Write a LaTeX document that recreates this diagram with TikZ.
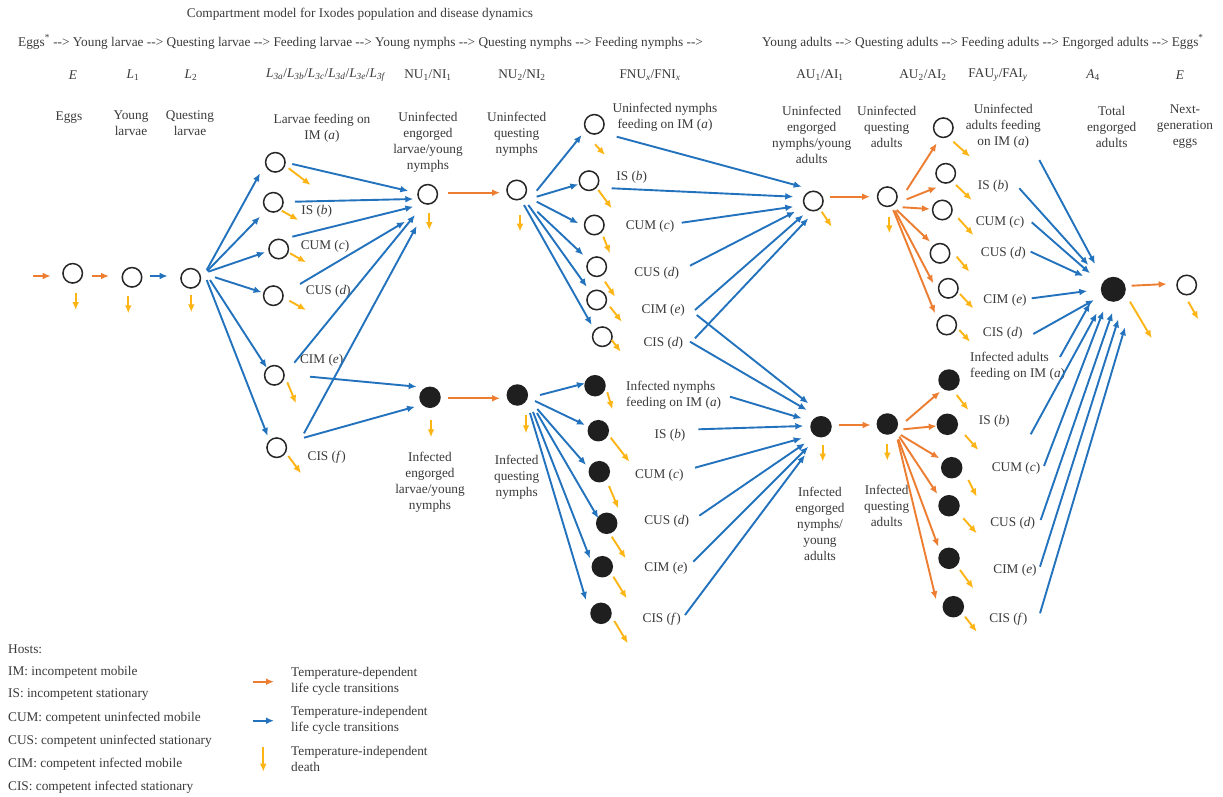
\documentclass[tikz,border=0pt]{standalone}
\usepackage{fontspec}
\setmainfont{Liberation Serif}
\usetikzlibrary{arrows.meta,calc}
\definecolor{torange}{HTML}{ED7D31}
\definecolor{tblue}{HTML}{2372BD}
\definecolor{tyellow}{HTML}{FDB515}
\definecolor{tgray}{HTML}{3A3A3A}
\newcommand\cnx[5]{\draw[#1] ($(#2)+(#3)$) -- ($(#4)+(#5)$);}
\newcommand\dth[3]{\draw[death] ($(#1)+(#2)$) -- ($(#1)+(#3)$);}
\newcommand\dd{-{}-{}>}
\begin{document}
\begin{tikzpicture}[x=1pt,y=-1pt,
  font=\fontsize{13.3}{16}\selectfont,
  every node/.style={text=tgray},
  un/.style={circle,draw=black!85,line width=1.5pt,minimum size=19.5pt,inner sep=0pt},
  inf/.style={circle,fill=black!88,minimum size=21.5pt,inner sep=0pt},
  arr/.style={line width=1.9pt,-{Latex[length=8pt,width=6.8pt]}},
  tdep/.style={arr,draw=torange},
  tind/.style={arr,draw=tblue},
  death/.style={arr,draw=tyellow},
  lbl/.style={align=center,inner sep=0pt}]
\fill[white] (0,0) rectangle (1223,797);
\path[use as bounding box] (0,0) rectangle (1223,797);

% ---------- header ----------
\node[lbl] (title) at (360,14) {Compartment model for Ixodes population and disease dynamics};
\node[lbl,anchor=west] (hdrL) at (18,42) {Eggs\textsuperscript{*} \dd{} Young larvae \dd{} Questing larvae \dd{} Feeding larvae \dd{} Young nymphs \dd{} Questing nymphs \dd{} Feeding nymphs \dd};
\node[lbl,anchor=west] (hdrR) at (762,42) {Young adults \dd{} Questing adults \dd{} Feeding adults \dd{} Engorged adults \dd{} Eggs\textsuperscript{*}};

\node[lbl] (sE) at (73,75) {\textit{E}};
\node[lbl] (sL1) at (133,75) {\textit{L}\textsubscript{1}};
\node[lbl] (sL2) at (191,75) {\textit{L}\textsubscript{2}};
\node[lbl] (sL3) at (326,75) {\textit{L}\textsubscript{\textit{3a}}/\textit{L}\textsubscript{\textit{3b}}/\textit{L}\textsubscript{\textit{3c}}/\textit{L}\textsubscript{\textit{3d}}/\textit{L}\textsubscript{\textit{3e}}/\textit{L}\textsubscript{\textit{3f}}};
\node[lbl] (sNU1) at (428,75) {NU\textsubscript{1}/NI\textsubscript{1}};
\node[lbl] (sNU2) at (522,75) {NU\textsubscript{2}/NI\textsubscript{2}};
\node[lbl] (sFN) at (650,75) {FNU\textsubscript{\textit{x}}/FNI\textsubscript{\textit{x}}};
\node[lbl] (sAU1) at (820,75) {AU\textsubscript{1}/AI\textsubscript{1}};
\node[lbl] (sAU2) at (923,75) {AU\textsubscript{2}/AI\textsubscript{2}};
\node[lbl] (sFA) at (998,75) {FAU\textsubscript{\textit{y}}/FAI\textsubscript{\textit{y}}};
\node[lbl] (sA4) at (1093,75) {\textit{A}\textsubscript{4}};
\node[lbl] (sE2) at (1180,75) {\textit{E}};

% ---------- descriptive labels ----------
\node[lbl] (tEggs) at (69,118) {Eggs};
\node[lbl] (tYL) at (131,123) {Young\\larvae};
\node[lbl] (tQL) at (190,123) {Questing\\larvae};
\node[lbl] (tLF) at (322,128.5) {Larvae feeding on\\IM (\textit{a})};
\node[lbl] (tNU1) at (428,142.7) {Uninfected\\engorged\\larvae/young\\nymphs};
\node[lbl] (tNU2) at (516.7,134) {Uninfected\\questing\\nymphs};
\node[lbl] (tFNU) at (665,117) {Uninfected nymphs\\feeding on IM (\textit{a})};
\node[lbl] (tAU1) at (811.7,135.3) {Uninfected\\engorged\\nymphs/young\\adults};
\node[lbl] (tAU2) at (886.7,127) {Uninfected\\questing\\adults};
\node[lbl] (tFAU) at (1003.3,126) {Uninfected\\adults feeding\\on IM (\textit{a})};
\node[lbl] (tA4) at (1111.7,126.7) {Total\\engorged\\adults};
\node[lbl] (tE1) at (1185,126.7) {Next-\\generation\\eggs};
\node[lbl] (tNI1) at (430,482) {Infected\\engorged\\larvae/young\\nymphs};
\node[lbl] (tNI2) at (516.7,477.7) {Infected\\questing\\nymphs};
\node[lbl,anchor=west,align=left] (tFNI) at (626,395) {Infected nymphs\\feeding on IM (\textit{a})};
\node[lbl] (tAI1) at (820,523.7) {Infected\\engorged\\nymphs/\\young\\adults};
\node[lbl] (tAI2) at (886.7,506) {Infected\\questing\\adults};
\node[lbl,anchor=west,align=left] (tFAI) at (970,366) {Infected adults\\feeding on IM (\textit{a})};

% host labels
\node[lbl] (h3b) at (316.7,211.7) {IS (\textit{b})};
\node[lbl] (h3c) at (325,246) {CUM (\textit{c})};
\node[lbl] (h3d) at (328.3,291) {CUS (\textit{d})};
\node[lbl] (h3e) at (321.7,360.7) {CIM (\textit{e})};
\node[lbl] (h3f) at (326.7,457.7) {CIS (\textit{f})};
\node[lbl] (hNUb) at (631.7,177.3) {IS (\textit{b})};
\node[lbl] (hNUc) at (650,226.7) {CUM (\textit{c})};
\node[lbl] (hNUd) at (656.7,273.3) {CUS (\textit{d})};
\node[lbl] (hNUe) at (663.3,310) {CIM (\textit{e})};
\node[lbl] (hNUf) at (663.3,343.3) {CIS (\textit{d})};
\node[lbl] (hNIb) at (670,435) {IS (\textit{b})};
\node[lbl] (hNIc) at (659.3,475) {CUM (\textit{c})};
\node[lbl] (hNId) at (666.7,521.7) {CUS (\textit{d})};
\node[lbl] (hNIe) at (666,568.3) {CIM (\textit{e})};
\node[lbl] (hNIf) at (661.7,619.3) {CIS (\textit{f})};
\node[lbl] (hAUb) at (993.3,186.7) {IS (\textit{b})};
\node[lbl] (hAUc) at (1000,222.3) {CUM (\textit{c})};
\node[lbl] (hAUd) at (1003.3,253.3) {CUS (\textit{d})};
\node[lbl] (hAUe) at (1005,300.7) {CIM (\textit{e})};
\node[lbl] (hAUf) at (1002.7,333.3) {CIS (\textit{d})};
\node[lbl] (hAIb) at (994.3,421.7) {IS (\textit{b})};
\node[lbl] (hAIc) at (1016,468.3) {CUM (\textit{c})};
\node[lbl] (hAId) at (1012.7,523.3) {CUS (\textit{d})};
\node[lbl] (hAIe) at (1015,570) {CIM (\textit{e})};
\node[lbl] (hAIf) at (1008.3,619.3) {CIS (\textit{f})};

% ---------- compartments ----------
\node[un] (E0) at (72.7,273.3) {};
\node[un] (L1) at (132,277.3) {};
\node[un] (L2) at (190.7,278.3) {};
\node[un] (L3a) at (275.3,162.3) {};
\node[un] (L3b) at (273.3,202.3) {};
\node[un] (L3c) at (278.7,249) {};
\node[un] (L3d) at (273.3,295.7) {};
\node[un] (L3e) at (274.3,375.3) {};
\node[un] (L3f) at (276.7,447.7) {};
\node[un] (NU1) at (427.7,194.3) {};
\node[inf] (NI1) at (430,397.3) {};
\node[un] (NU2) at (516.7,190) {};
\node[inf] (NI2) at (517.3,395) {};
\node[un] (FNUa) at (594.3,124.3) {};
\node[un] (FNUb) at (589,180.7) {};
\node[un] (FNUc) at (594.3,225) {};
\node[un] (FNUd) at (596.7,266.7) {};
\node[un] (FNUe) at (596.7,300) {};
\node[un] (FNUf) at (602.3,336.7) {};
\node[inf] (FNIa) at (595,385.7) {};
\node[inf] (FNIb) at (598.3,430.7) {};
\node[inf] (FNIc) at (599.3,471.7) {};
\node[inf] (FNId) at (606.7,523.3) {};
\node[inf] (FNIe) at (602.3,566.7) {};
\node[inf] (FNIf) at (601,613.3) {};
\node[un] (AU1) at (813.3,201) {};
\node[inf] (AI1) at (821,426.7) {};
\node[un] (AU2) at (887.3,196.7) {};
\node[inf] (AI2) at (887.3,424) {};
\node[un] (FAUa) at (943.3,127.7) {};
\node[un] (FAUb) at (945.7,173.3) {};
\node[un] (FAUc) at (942.3,210) {};
\node[un] (FAUd) at (940,253.3) {};
\node[un] (FAUe) at (948.3,288.3) {};
\node[un] (FAUf) at (946.7,325) {};
\node[inf] (FAIa) at (949,380) {};
\node[inf] (FAIb) at (947.3,424.3) {};
\node[inf] (FAIc) at (951.7,467.7) {};
\node[inf] (FAId) at (949,505.7) {};
\node[inf] (FAIe) at (949,558.3) {};
\node[inf] (FAIf) at (953.3,606.7) {};
\node[inf,minimum size=25pt] (A4) at (1113.3,289.3) {};
\node[un] (E1) at (1186.7,285) {};

% ---------- temperature-dependent transitions ----------
\cnx{tdep}{E0}{-39.7,2.7}{E0}{-22,2.7}
\cnx{tdep}{E0}{19,2.7}{L1}{-23,-1.3}
\cnx{tdep}{NU1}{20.6,-1.6}{NU2}{-16.7,2.7}
\cnx{tdep}{NI1}{18.3,1}{NI2}{-17.3,3.3}
\cnx{tdep}{AU1}{16.7,-4.3}{AU2}{-17.3,0}
\cnx{tdep}{AI1}{18.3,-1.7}{AI2}{-16.6,1}
\cnx{tdep}{A4}{18.4,-3.6}{E1}{-20,-1}
\cnx{tdep}{AU2}{19.4,-6.7}{FAUa}{-6.6,15.6}
\cnx{tdep}{AU2}{19.4,2.6}{FAUb}{-9,14}
\cnx{tdep}{AU2}{15.4,10.6}{FAUc}{-12.3,-1}
\cnx{tdep}{AU2}{9.4,13.3}{FAUd}{-10,-11.6}
\cnx{tdep}{AU2}{7.7,14}{FAUe}{-15,-5}
\cnx{tdep}{AU2}{6,13.3}{FAUf}{-11.7,-11.7}
\cnx{tdep}{AI2}{18.7,-3}{FAIa}{-9,11.7}
\cnx{tdep}{AI2}{16,5.3}{FAIb}{-10.6,1.7}
\cnx{tdep}{AI2}{13.4,11}{FAIc}{-12.4,-9.4}
\cnx{tdep}{AI2}{12,12.7}{FAId}{-11.7,-11.7}
\cnx{tdep}{AI2}{11,15}{FAIe}{-10.7,-11.6}
\cnx{tdep}{AI2}{10.4,16}{FAIf}{-17.3,-7.4}

% ---------- temperature-independent transitions ----------
\cnx{tind}{L1}{18,-1.3}{L2}{-23,-2.3}
\cnx{tind}{L2}{16,-8.3}{L3a}{-15.3,11}
\cnx{tind}{L2}{16.5,-7.3}{L3b}{-13.3,14.4}
\cnx{tind}{L2}{17.6,-6.6}{L3c}{-13.7,3.3}
\cnx{tind}{L2}{24.3,-1}{L3d}{-11.6,-3.4}
\cnx{tind}{L2}{19.3,1.7}{L3e}{-7.6,-7.6}
\cnx{tind}{L2}{16,1.7}{L3f}{-9,-11.7}
\cnx{tind}{L3a}{17,1.7}{NU1}{-19.4,-3.3}
\cnx{tind}{L3b}{21.7,-0.6}{NU1}{-14.4,4.7}
\cnx{tind}{L3c}{13.6,-12.3}{NU1}{-14.4,12.4}
\cnx{tind}{L3d}{26.7,-11.7}{NU1}{-22.7,27.4}
\cnx{tind}{L3e}{20,-12.6}{NU1}{-12.7,20.7}
\cnx{tind}{L3f}{27.3,-14.4}{NU1}{-11,31.7}
\cnx{tind}{L3e}{35.7,1.4}{NI1}{-13.3,-10.6}
\cnx{tind}{L3f}{27.3,-10}{NI1}{-15,9.4}
\cnx{tind}{NU2}{20,0.7}{FNUa}{-12.6,10.7}
\cnx{tind}{NU2}{20,6.7}{FNUb}{-10.7,3.6}
\cnx{tind}{NU2}{20,11.7}{FNUc}{-16,-1.7}
\cnx{tind}{NU2}{20.6,21.7}{FNUd}{-13.4,-11.7}
\cnx{tind}{NU2}{11.6,15}{FNUe}{-10,-13.3}
\cnx{tind}{NU2}{7.3,15}{FNUf}{-10.6,-11.7}
\cnx{tind}{NI2}{22.7,0}{FNIa}{-10,-2.4}
\cnx{tind}{NI2}{17.7,6}{FNIb}{-13.3,-5.7}
\cnx{tind}{NI2}{20,14}{FNIc}{-13.3,-6.7}
\cnx{tind}{NI2}{19.7,18}{FNId}{-8.4,-5}
\cnx{tind}{NI2}{15.7,17}{FNIe}{-12.3,-8.4}
\cnx{tind}{NI2}{12.7,18}{FNIf}{-15,-13.3}
\cnx{tind}{FNUa}{22.4,12.4}{AU1}{-11.6,-14.3}
\cnx{tind}{FNUb}{22.7,7.6}{AU1}{-20,-4.3}
\cnx{tind}{FNUc}{87.4,-2.3}{AU1}{-20,5.7}
\cnx{tind}{FNUd}{93.3,-1}{AU1}{-18.3,10.7}
\cnx{tind}{FNUe}{98.3,10}{AU1}{-10,14}
\cnx{tind}{FNUf}{92.7,1.6}{AU1}{-5,17.3}
\cnx{tind}{FNUe}{100,15}{AI1}{-12.7,-23.4}
\cnx{tind}{FNUf}{87.7,5}{AI1}{-14.3,-16.7}
\cnx{tind}{FNIa}{135,11}{AI1}{-19.3,-8.4}
\cnx{tind}{FNIb}{100,-1.4}{AI1}{-17.7,-0.7}
\cnx{tind}{FNIc}{95.7,-4}{AI1}{-19.3,11.6}
\cnx{tind}{FNId}{92.6,-7.6}{AI1}{-16,16.6}
\cnx{tind}{FNIe}{91,-5}{AI1}{-12.7,20}
\cnx{tind}{FNIf}{84,1.7}{AI1}{-16,28.3}
\cnx{tind}{FAUa}{96,32.3}{A4}{-18.3,-25.3}
\cnx{tind}{FAUb}{73.6,15}{A4}{-25,-24.3}
\cnx{tind}{FAUc}{89.4,12.3}{A4}{-23.3,-16}
\cnx{tind}{FAUd}{90.7,-1.6}{A4}{-30,-13.3}
\cnx{tind}{FAUe}{83.4,10}{A4}{-26,1.7}
\cnx{tind}{FAUf}{86.6,9}{A4}{-19.3,10.7}
\cnx{tind}{FAIa}{111,-23}{A4}{-23.3,14}
\cnx{tind}{FAIb}{83.4,10}{A4}{-16.6,24}
\cnx{tind}{FAIc}{92.3,-1.7}{A4}{-10,21.7}
\cnx{tind}{FAId}{91.7,14.3}{A4}{-1,23.4}
\cnx{tind}{FAIe}{91,8.4}{A4}{5,30}
\cnx{tind}{FAIf}{86.7,6.6}{A4}{11.7,38}

% ---------- deaths ----------
\dth{E0}{3,19.4}{3,36.7}
\dth{L1}{-3.7,18.4}{-3.7,36}
\dth{L2}{0.6,16.7}{0.6,34}
\dth{L3a}{13.4,6}{35.4,22.7}
\dth{L3b}{8.4,8.4}{25,17.7}
\dth{L3c}{11.3,4.3}{27.3,13.3}
\dth{L3d}{16,5}{32.7,14.3}
\dth{L3e}{13,7}{21.7,28}
\dth{L3f}{11.6,8.3}{24.3,25.6}
\dth{NU1}{1.6,19}{1.6,35.7}
\dth{NU2}{3.3,25}{3.3,41.7}
\dth{NI1}{1,22.7}{1,40}
\dth{NI2}{8.7,20}{8.7,38.3}
\dth{FNUa}{0.7,20}{10.7,30.7}
\dth{FNUb}{9.3,9.3}{22.7,27.6}
\dth{FNUc}{9,11.7}{15.7,28.3}
\dth{FNUd}{8.3,15}{18.3,30}
\dth{FNUe}{13.3,6.7}{25,21.7}
\dth{FNUf}{9.4,3.3}{18.4,15}
\dth{FNIa}{12.3,6.6}{17.3,23.6}
\dth{FNIb}{12.4,7}{31,31}
\dth{FNIc}{9.7,14.3}{19,36.6}
\dth{FNId}{5,13.4}{19,35}
\dth{FNIe}{11,10}{24.4,31.6}
\dth{FNIf}{13.3,7.7}{26.7,30}
\dth{AU1}{8.4,10.7}{18.4,25.7}
\dth{AU2}{2,20.6}{2,36.6}
\dth{AI1}{1.7,18.3}{1.7,35}
\dth{AI2}{0,20}{0,36.7}
\dth{FAUa}{10,14}{26.7,29}
\dth{FAUb}{10.3,11.7}{26,26.7}
\dth{FAUc}{16,8.3}{31,25}
\dth{FAUd}{16.7,3.4}{29.3,18.4}
\dth{FAUe}{11.7,5.7}{25,20}
\dth{FAUf}{12.6,5}{23.3,16.7}
\dth{FAIa}{7.7,15}{19.3,30}
\dth{FAIb}{17.7,10.7}{31,25.7}
\dth{FAIc}{16.6,12.3}{25,29}
\dth{FAId}{14.3,12.6}{27.7,27.6}
\dth{FAIe}{11,11.7}{24.3,30}
\dth{FAIf}{11.7,10}{23.4,25}
\dth{A4}{16.7,12.4}{38.4,49}
\dth{E1}{1.6,16.7}{11.6,34.3}

% ---------- legend ----------
\node[lbl,anchor=west] (hosts) at (8,649) {Hosts:};
\node[lbl,anchor=west] (kIM) at (8,672) {IM: incompetent mobile};
\node[lbl,anchor=west] (kIS) at (8,695) {IS: incompetent stationary};
\node[lbl,anchor=west] (kCUM) at (8,718) {CUM: competent uninfected mobile};
\node[lbl,anchor=west] (kCUS) at (8,741) {CUS: competent uninfected stationary};
\node[lbl,anchor=west] (kCIM) at (8,764) {CIM: competent infected mobile};
\node[lbl,anchor=west] (kCIS) at (8,787) {CIS: competent infected stationary};
\coordinate (lo1) at (253,681.7);
\coordinate (lo2) at (274,681.7);
\coordinate (lb1) at (253,720.7);
\coordinate (lb2) at (274,720.7);
\coordinate (ly1) at (263.3,746.7);
\coordinate (ly2) at (263.3,771.7);
\draw[tdep] (lo1) -- (lo2);
\draw[tind] (lb1) -- (lb2);
\draw[death] (ly1) -- (ly2);
\node[lbl,anchor=west,align=left] (kTD) at (291,681) {Temperature-dependent\\life cycle transitions};
\node[lbl,anchor=west,align=left] (kTI) at (291,720) {Temperature-independent\\life cycle transitions};
\node[lbl,anchor=west,align=left] (kDe) at (291,758.7) {Temperature-independent\\death};
\end{tikzpicture}
\end{document}
